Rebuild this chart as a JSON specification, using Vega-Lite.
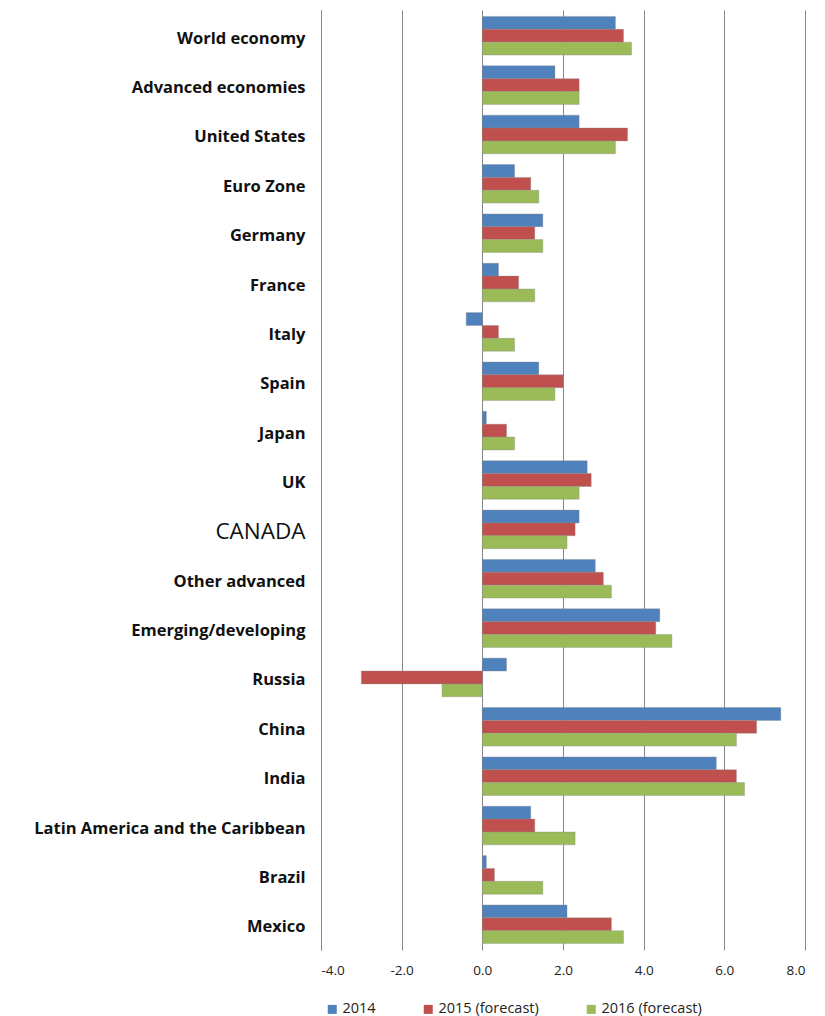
{
  "$schema": "https://vega.github.io/schema/vega-lite/v6.json",
  "autosize": "none",
  "width": 484,
  "height": 940,
  "padding": {"left": 321, "top": 10, "right": 20, "bottom": 66},
  "background": "white",
  "data": {
    "values": [
      {"region": "World economy", "series": "2014", "growth": 3.3},
      {"region": "World economy", "series": "2015 (forecast)", "growth": 3.5},
      {"region": "World economy", "series": "2016 (forecast)", "growth": 3.7},
      {"region": "Advanced economies", "series": "2014", "growth": 1.8},
      {"region": "Advanced economies", "series": "2015 (forecast)", "growth": 2.4},
      {"region": "Advanced economies", "series": "2016 (forecast)", "growth": 2.4},
      {"region": "United States", "series": "2014", "growth": 2.4},
      {"region": "United States", "series": "2015 (forecast)", "growth": 3.6},
      {"region": "United States", "series": "2016 (forecast)", "growth": 3.3},
      {"region": "Euro Zone", "series": "2014", "growth": 0.8},
      {"region": "Euro Zone", "series": "2015 (forecast)", "growth": 1.2},
      {"region": "Euro Zone", "series": "2016 (forecast)", "growth": 1.4},
      {"region": "Germany", "series": "2014", "growth": 1.5},
      {"region": "Germany", "series": "2015 (forecast)", "growth": 1.3},
      {"region": "Germany", "series": "2016 (forecast)", "growth": 1.5},
      {"region": "France", "series": "2014", "growth": 0.4},
      {"region": "France", "series": "2015 (forecast)", "growth": 0.9},
      {"region": "France", "series": "2016 (forecast)", "growth": 1.3},
      {"region": "Italy", "series": "2014", "growth": -0.4},
      {"region": "Italy", "series": "2015 (forecast)", "growth": 0.4},
      {"region": "Italy", "series": "2016 (forecast)", "growth": 0.8},
      {"region": "Spain", "series": "2014", "growth": 1.4},
      {"region": "Spain", "series": "2015 (forecast)", "growth": 2.0},
      {"region": "Spain", "series": "2016 (forecast)", "growth": 1.8},
      {"region": "Japan", "series": "2014", "growth": 0.1},
      {"region": "Japan", "series": "2015 (forecast)", "growth": 0.6},
      {"region": "Japan", "series": "2016 (forecast)", "growth": 0.8},
      {"region": "UK", "series": "2014", "growth": 2.6},
      {"region": "UK", "series": "2015 (forecast)", "growth": 2.7},
      {"region": "UK", "series": "2016 (forecast)", "growth": 2.4},
      {"region": "CANADA", "series": "2014", "growth": 2.4},
      {"region": "CANADA", "series": "2015 (forecast)", "growth": 2.3},
      {"region": "CANADA", "series": "2016 (forecast)", "growth": 2.1},
      {"region": "Other advanced", "series": "2014", "growth": 2.8},
      {"region": "Other advanced", "series": "2015 (forecast)", "growth": 3.0},
      {"region": "Other advanced", "series": "2016 (forecast)", "growth": 3.2},
      {"region": "Emerging/developing", "series": "2014", "growth": 4.4},
      {"region": "Emerging/developing", "series": "2015 (forecast)", "growth": 4.3},
      {"region": "Emerging/developing", "series": "2016 (forecast)", "growth": 4.7},
      {"region": "Russia", "series": "2014", "growth": 0.6},
      {"region": "Russia", "series": "2015 (forecast)", "growth": -3.0},
      {"region": "Russia", "series": "2016 (forecast)", "growth": -1.0},
      {"region": "China", "series": "2014", "growth": 7.4},
      {"region": "China", "series": "2015 (forecast)", "growth": 6.8},
      {"region": "China", "series": "2016 (forecast)", "growth": 6.3},
      {"region": "India", "series": "2014", "growth": 5.8},
      {"region": "India", "series": "2015 (forecast)", "growth": 6.3},
      {"region": "India", "series": "2016 (forecast)", "growth": 6.5},
      {"region": "Latin America and the Caribbean", "series": "2014", "growth": 1.2},
      {"region": "Latin America and the Caribbean", "series": "2015 (forecast)", "growth": 1.3},
      {"region": "Latin America and the Caribbean", "series": "2016 (forecast)", "growth": 2.3},
      {"region": "Brazil", "series": "2014", "growth": 0.1},
      {"region": "Brazil", "series": "2015 (forecast)", "growth": 0.3},
      {"region": "Brazil", "series": "2016 (forecast)", "growth": 1.5},
      {"region": "Mexico", "series": "2014", "growth": 2.1},
      {"region": "Mexico", "series": "2015 (forecast)", "growth": 3.2},
      {"region": "Mexico", "series": "2016 (forecast)", "growth": 3.5}
    ]
  },
  "config": {
    "view": {"stroke": null},
    "font": "Open Sans"
  },
  "mark": {"type": "bar", "strokeWidth": 0.6, "stroke": "#8a8a8a", "strokeOpacity": 0.6},
  "encoding": {
    "y": {
      "field": "region",
      "type": "nominal",
      "sort": null,
      "title": null,
      "scale": {"paddingInner": 0.218, "paddingOuter": 0.13},
      "axis": {
        "domain": true,
        "domainColor": "#868686",
        "domainWidth": 1,
        "ticks": false,
        "grid": false,
        "labelPadding": 16,
        "labelOffset": 3,
        "labelFont": "Open Sans",
        "labelFontSize": {"condition": {"test": "datum.value === 'CANADA'", "value": 22.5}, "value": 16.5},
        "labelFontWeight": {"condition": {"test": "datum.value === 'CANADA'", "value": "normal"}, "value": "bold"},
        "labelColor": "#111111",
        "labelLimit": 320
      }
    },
    "yOffset": {
      "field": "series",
      "type": "nominal",
      "sort": ["2014", "2015 (forecast)", "2016 (forecast)"]
    },
    "x": {
      "field": "growth",
      "type": "quantitative",
      "title": null,
      "scale": {"domain": [-4, 8], "nice": false, "zero": false},
      "axis": {
        "values": [-4, -2, 0, 2, 4, 6, 8],
        "labelExpr": "datum.value < 0 ? '-' + format(-datum.value, '.1f') : format(datum.value, '.1f')",
        "domain": false,
        "ticks": false,
        "grid": true,
        "gridColor": "#868686",
        "gridWidth": 1,
        "labelFont": "Open Sans",
        "labelFontSize": 13.5,
        "labelColor": "#222222",
        "labelPadding": 13
      }
    },
    "color": {
      "field": "series",
      "type": "nominal",
      "sort": ["2014", "2015 (forecast)", "2016 (forecast)"],
      "scale": {"range": ["#4F81BD", "#C0504D", "#9BBB59"]},
      "legend": {
        "title": null,
        "orient": "none",
        "direction": "horizontal",
        "legendX": 4,
        "legendY": 992,
        "symbolType": "square",
        "symbolSize": 81,
        "symbolStrokeWidth": 0,
        "labelFont": "Open Sans",
        "labelFontSize": 14.5,
        "labelColor": "#222222",
        "labelOffset": 3,
        "columnPadding": 45
      }
    }
  }
}
